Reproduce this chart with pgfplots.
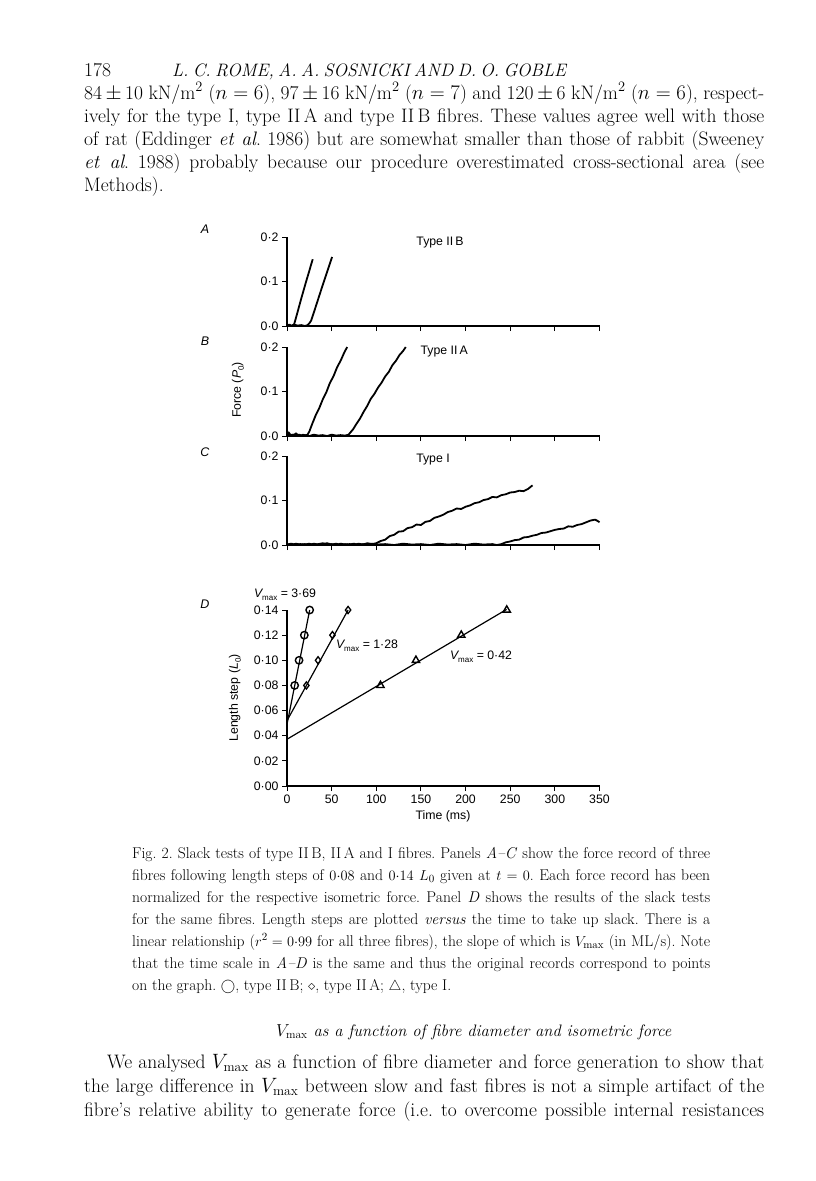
\documentclass[border=0pt]{standalone}
\usepackage{fontspec}
\usepackage{pgfplots}
\pgfplotsset{compat=1.18}
\newfontfamily\figfont{Liberation Sans}
\frenchspacing
\newcommand\tl[4]{\node[anchor=base west,inner sep=0pt] at (#1pt,-#2pt) {\makebox[#3pt][s]{#4}};}
\newcommand\nl[3]{\node[anchor=base west,inner sep=0pt] at (#1pt,-#2pt) {#3};}
\newcommand\Vm{$V_{\mathrm{max}}$}
\newcommand\fV{{\itshape V}\raisebox{-0.45ex}{\fontsize{8}{8}\selectfont max}}
\pgfplotsset{
 panel/.style={scale only axis, width=312.5pt, xmin=0, xmax=350,
   axis x line=bottom, axis y line=left, axis line style={-, line width=1.1pt},
   tick align=outside, major tick length=5pt, tick style={line width=1pt, black},
   xtick={0,50,100,150,200,250,300,350},
   ticklabel style={font=\figfont\fontsize{12.3}{14}\selectfont},
   clip=false, anchor=south west},
 abc/.style={panel, height=89pt, ymin=0, ymax=0.2, ytick={0,0.1,0.2},
   yticklabels={0·0,0·1,0·2}, xticklabels={}},
 trace/.style={black, line width=1.8pt, line join=round, mark=none},
}
\begin{document}
\begin{tikzpicture}
\path[use as bounding box, fill=white] (0,0) rectangle (816pt,-1181pt);
% ---------- header and top text ----------
\begin{scope}[font=\fontsize{19.5}{23}\selectfont]
\nl{84}{76}{178}
\tl{172}{76}{313}{\fontsize{18}{20}\selectfont\itshape L.~C. ROME, A.~A. SOSNICKI AND D.~O. GOBLE}
\tl{84}{99}{680}{84$\,\pm\,$10 kN/m$^2$ ($n=6$), 97$\,\pm\,$16 kN/m$^2$ ($n=7$) and 120$\,\pm\,$6 kN/m$^2$ ($n=6$), respect-}
\tl{84}{122}{680}{ively for the type I, type II\,A and type II\,B fibres. These values agree well with those}
\tl{84}{145}{680}{of rat (Eddinger \textit{et al}. 1986) but are somewhat smaller than those of rabbit (Sweeney}
\tl{84}{168}{680}{\textit{et al}. 1988) probably because our procedure overestimated cross-sectional area (see}
\nl{84}{191}{Methods).}
\end{scope}
% ---------- panel A ----------
\begin{axis}[abc, at={(287pt,-326pt)}]
\addplot[trace] coordinates {(0,0.006)(1,0.001)(3,0.003)(5,0.0)(7,0.002)(8,0.004)(10,0.018)(13,0.04)(16,0.062)(19,0.083)(22,0.104)(25,0.124)(27,0.138)(28.8,0.150)};
\addplot[trace] coordinates {(0,0.002)(4,0.000)(8,0.003)(12,0.001)(16,0.002)(20,0.000)(23,0.002)(25,0.006)(27,0.012)(30,0.03)(35,0.061)(40,0.092)(45,0.122)(50.5,0.155)};
\end{axis}
% ---------- panel B ----------
\begin{axis}[abc, at={(287pt,-436pt)}]
\addplot[trace] coordinates {(0,0.012)(1,0.004)(2,0.008)(4,0.002)(6,0.003)(8,0.001)(10,0.006)(12,0.002)(14,0.003)(16,0.001)(18,0.003)(20,0.001)(23,0.003)(25,0.010)(28,0.026)(32,0.046)(36,0.062)(40,0.082)(44,0.098)(48,0.119)(52,0.134)(56,0.154)(60,0.169)(64,0.187)(67.4,0.2)};
\addplot[trace] coordinates {(0,0.004)(5,0.002)(10,0.004)(15,0.001)(20,0.002)(25,0.000)(30,0.003)(35,0.001)(40,0.002)(45,0.000)(50,0.003)(55,0.001)(60,0.002)(65,0.001)(69,0.003)(71,0.008)(74,0.015)(78,0.028)(82,0.040)(86,0.055)(90,0.068)(94,0.084)(98,0.095)(102,0.109)(106,0.120)(110,0.134)(114,0.144)(118,0.159)(122,0.169)(126,0.182)(130,0.191)(133,0.2)};
\end{axis}
% ---------- panel C ----------
\begin{axis}[abc, at={(287pt,-545pt)}]
\addplot[trace] coordinates {(0,0.001)(5,0.003)(10,0.000)(15,0.002)(20,0.001)(25,0.003)(30,0.000)(35,0.002)(40,0.004)(45,0.001)(50,0.002)(55,0.000)(60,0.003)(65,0.001)(70,0.002)(75,0.000)(80,0.003)(85,0.001)(90,0.004)(95,0.002)(100,0.004)(105,0.009)(110,0.012)(115,0.020)(120,0.023)(125,0.030)(130,0.031)(135,0.038)(140,0.040)(145,0.046)(150,0.045)(155,0.052)(160,0.054)(165,0.061)(170,0.064)(175,0.068)(180,0.074)(185,0.077)(190,0.082)(195,0.081)(200,0.086)(205,0.089)(210,0.094)(215,0.096)(220,0.101)(225,0.103)(230,0.108)(235,0.107)(240,0.112)(245,0.114)(250,0.118)(255,0.119)(260,0.122)(265,0.121)(270,0.126)(273,0.131)(275,0.134)};
\addplot[trace] coordinates {(0,0.002)(5,0.000)(10,0.003)(15,0.001)(20,0.002)(25,0.000)(30,0.003)(35,0.001)(40,0.002)(45,0.004)(50,0.001)(55,0.003)(60,0.000)(65,0.002)(70,0.001)(75,0.003)(80,0.000)(85,0.002)(90,0.001)(95,0.003)(100,0.001)(110,0.002)(120,0.000)(130,0.003)(140,0.001)(150,0.002)(160,0.000)(170,0.003)(180,0.001)(190,0.002)(200,0.000)(210,0.003)(220,0.001)(230,0.002)(235,0.000)(240,0.002)(245,0.006)(250,0.008)(255,0.011)(260,0.012)(265,0.017)(270,0.018)(275,0.021)(280,0.023)(285,0.027)(290,0.028)(295,0.031)(300,0.034)(305,0.036)(310,0.037)(315,0.042)(320,0.041)(325,0.045)(330,0.047)(335,0.051)(340,0.055)(345,0.057)(348,0.054)(350,0.051)};
\end{axis}
% ---------- panel D ----------
\begin{axis}[panel, at={(287pt,-786pt)}, height=176pt, ymin=0, ymax=0.14,
  ytick={0,0.02,0.04,0.06,0.08,0.10,0.12,0.14},
  yticklabels={0·00,0·02,0·04,0·06,0·08,0·10,0·12,0·14},
  xticklabels={0,50,100,150,200,250,300,350}]
\addplot[black, line width=1.2pt] coordinates {(0,0.049)(25.4,0.14)};
\addplot[black, line width=1.2pt] coordinates {(0,0.052)(68.4,0.14)};
\addplot[black, line width=1.2pt] coordinates {(0,0.0372)(246,0.1405)};
\addplot[only marks, mark=o, mark size=3.7pt, mark options={line width=1.4pt, black}] coordinates {(8.6,0.08)(13.5,0.10)(19.4,0.12)(25.4,0.14)};
\addplot[only marks, mark=diamond, mark size=3.6pt, mark options={line width=1.3pt, black}] coordinates {(21.7,0.08)(34.8,0.10)(50.9,0.12)(68.4,0.14)};
\addplot[only marks, mark=triangle, mark size=4.2pt, mark options={line width=1.4pt, black}] coordinates {(104.7,0.08)(144.4,0.10)(195.2,0.12)(246.1,0.14)};
\end{axis}
% ---------- figure texts ----------
\begin{scope}[font=\figfont\fontsize{12.3}{14}\selectfont]
\node[font=\figfont\itshape\fontsize{12.5}{14}\selectfont] at (205pt,-229pt) {A};
\node[font=\figfont\itshape\fontsize{12.5}{14}\selectfont] at (205pt,-341pt) {B};
\node[font=\figfont\itshape\fontsize{12.5}{14}\selectfont] at (205pt,-452pt) {C};
\node[font=\figfont\itshape\fontsize{12.5}{14}\selectfont] at (205pt,-604pt) {D};
\node at (440pt,-243pt) {Type II\,B};
\node[anchor=west] at (417pt,-352pt) {Type II\,A};
\node at (433pt,-460pt) {Type I};
\node[rotate=90] at (238pt,-390pt) {Force (\textit{P}\raisebox{-0.45ex}{\fontsize{8}{8}\selectfont 0})};
\node[rotate=90] at (235pt,-698pt) {Length step (\textit{L}\raisebox{-0.45ex}{\fontsize{8}{8}\selectfont 0})};
\node at (443pt,-816pt) {Time (ms)};
\node at (285pt,-595pt) {\fV{} = 3·69};
\node at (367pt,-646pt) {\fV{} = 1·28};
\node at (481pt,-657pt) {\fV{} = 0·42};
\end{scope}
% ---------- caption ----------
\begin{scope}[font=\fontsize{15.6}{20}\selectfont]
\tl{132}{858}{578}{Fig.~2. Slack tests of type II\,B, II\,A and I fibres. Panels \textit{A--C} show the force record of three}
\tl{132}{880}{578}{fibres following length steps of $0{\cdot}08$ and $0{\cdot}14$ $L_0$ given at $t=0$. Each force record has been}
\tl{132}{902}{578}{normalized for the respective isometric force. Panel \textit{D} shows the results of the slack tests}
\tl{132}{924}{578}{for the same fibres. Length steps are plotted \textit{versus} the time to take up slack. There is a}
\tl{132}{946}{578}{linear relationship ($r^2=0{\cdot}99$ for all three fibres), the slope of which is \Vm{} (in ML/s). Note}
\tl{132}{968}{578}{that the time scale in \textit{A--D} is the same and thus the original records correspond to points}
\nl{132}{990}{on the graph. $\bigcirc$, type II\,B; $\diamond$, type II\,A; $\triangle$, type I.}
\end{scope}
% ---------- heading and bottom text ----------
\begin{scope}[font=\fontsize{19.5}{23}\selectfont]
\node[anchor=base west,inner sep=0pt] at (276pt,-1036pt) {\fontsize{16.6}{20}\selectfont\itshape $V_{\mathrm{max}}$ as a function of fibre diameter and isometric force};
\tl{107}{1068}{657}{We analysed \Vm{} as a function of fibre diameter and force generation to show that}
\tl{84}{1092}{680}{the large difference in \Vm{} between slow and fast fibres is not a simple artifact of the}
\tl{84}{1116}{680}{fibre's relative ability to generate force (i.e. to overcome possible internal resistances}
\end{scope}
\end{tikzpicture}
\end{document}
